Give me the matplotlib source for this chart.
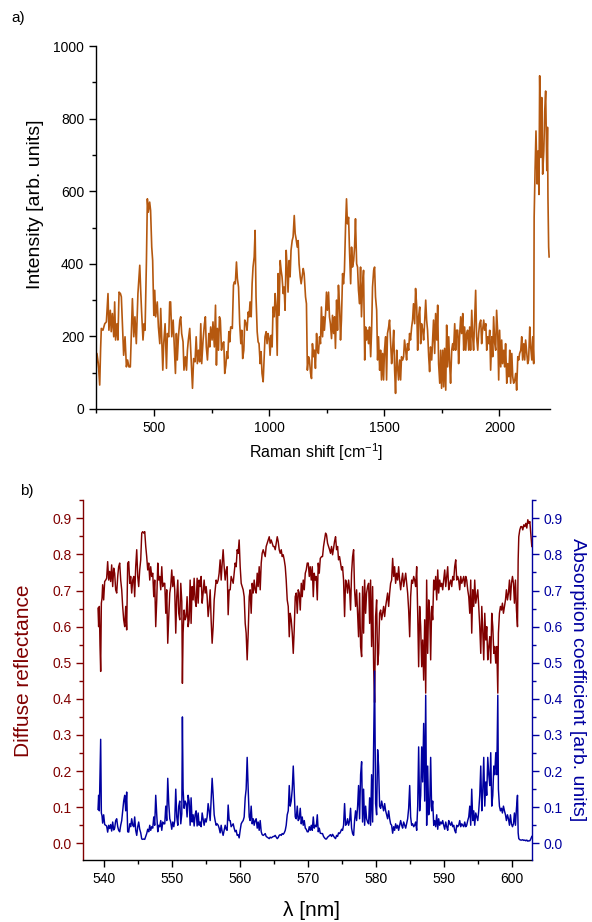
"""Raman spectrum (a) and diffuse reflectance / absorption spectrum (b)."""

import matplotlib

matplotlib.use("Agg")
import matplotlib.pyplot as plt
from matplotlib.ticker import MultipleLocator, FormatStrFormatter


# --- panel a: Raman spectrum ---
raman_shift = [
    249, 252, 258, 264, 268, 271, 278, 286, 293, 300, 304, 310, 314, 319, 325, 329, 333, 339, 343, 348,
    354, 358, 362, 368, 374, 380, 385, 391, 397, 403, 406, 412, 417, 423, 430, 438, 442, 446, 452, 457,
    461, 467, 471, 475, 481, 485, 490, 494, 499, 503, 507, 514, 519, 525, 529, 533, 538, 542, 548, 554,
    558, 564, 568, 572, 577, 583, 588, 593, 597, 601, 606, 612, 616, 620, 626, 630, 636, 641, 645, 649,
    655, 662, 667, 672, 678, 683, 688, 693, 698, 703, 707, 713, 719, 723, 727, 732, 738, 742, 746, 752,
    756, 762, 767, 771, 775, 780, 784, 788, 793, 797, 803, 807, 812, 816, 820, 825, 829, 833, 838, 840,
    845, 849, 853, 858, 862, 867, 872, 877, 881, 885, 890, 894, 900, 904, 909, 913, 917, 922, 926, 930,
    935, 939, 943, 948, 952, 956, 961, 965, 969, 974, 978, 982, 987, 991, 995, 1000, 1004, 1009, 1013, 1017,
    1022, 1026, 1030, 1035, 1039, 1043, 1048, 1052, 1056, 1061, 1065, 1069, 1074, 1078, 1082, 1087, 1091, 1095, 1100, 1104,
    1109, 1113, 1117, 1122, 1126, 1130, 1135, 1139, 1143, 1148, 1152, 1158, 1162, 1166, 1171, 1175, 1180, 1184, 1188, 1193,
    1197, 1201, 1206, 1210, 1214, 1219, 1223, 1227, 1232, 1236, 1240, 1245, 1249, 1253, 1258, 1262, 1266, 1271, 1275, 1280,
    1284, 1288, 1293, 1297, 1301, 1306, 1310, 1314, 1319, 1323, 1327, 1332, 1336, 1340, 1345,
    1349, 1354, 1358, 1362, 1367, 1371, 1375, 1380, 1384, 1388, 1393, 1397, 1401, 1406, 1410, 1415, 1419, 1423, 1428, 1432,
    1436, 1441, 1445, 1449, 1454, 1458, 1462, 1467, 1471, 1475, 1480, 1484, 1488, 1493, 1497, 1501, 1506, 1510, 1514, 1519,
    1523, 1528, 1532, 1536, 1541, 1545, 1549, 1554, 1558, 1562, 1567, 1571, 1575, 1580, 1584, 1588, 1593, 1597, 1601, 1606,
    1610, 1614, 1619, 1623, 1627, 1632, 1636, 1641, 1645, 1649, 1654, 1658, 1662, 1667, 1671, 1675, 1680, 1684, 1688, 1693,
    1697, 1701, 1706, 1710, 1714, 1719, 1723, 1728, 1732, 1736, 1741, 1745, 1749, 1754, 1758, 1762, 1767, 1771, 1775, 1780,
    1784, 1788, 1793, 1797, 1801, 1806, 1810, 1814, 1819, 1823, 1827, 1832, 1836, 1841, 1845, 1849, 1854, 1858, 1862, 1867,
    1871, 1875, 1880, 1884, 1888, 1893, 1897, 1901, 1906, 1910, 1914, 1919, 1923, 1927, 1932, 1936, 1941, 1945, 1949, 1954,
    1958, 1962, 1967, 1971, 1975, 1980, 1984, 1988, 1993, 1997, 2001, 2006, 2010, 2014, 2019, 2023, 2027, 2032, 2036, 2041,
    2045, 2049, 2054, 2058, 2062, 2067, 2071, 2075, 2080, 2084, 2088, 2093, 2097, 2101, 2106, 2110, 2114, 2119, 2123, 2127,
    2132, 2136, 2141, 2145, 2149, 2151, 2155, 2159, 2164, 2168, 2172, 2175, 2180, 2184, 2188, 2193, 2197, 2201, 2206, 2209,
    2211, 2214, 2216,
]
raman_intensity = [
    116, 153, 125, 66, 167, 222, 217, 235, 240, 318, 217, 272, 213, 263, 199, 295, 190, 235, 190, 322,
    318, 309, 245, 148, 199, 116, 135, 116, 116, 245, 304, 199, 254, 180, 318, 396, 327, 267, 190, 235,
    217, 409, 579, 542, 570, 547, 446, 409, 258, 327, 254, 295, 226, 180, 277, 199, 107, 180, 235, 112,
    208, 199, 295, 295, 199, 245, 171, 98, 208, 135, 199, 245, 254, 208, 185, 107, 144, 107, 162, 190,
    222, 125, 57, 139, 130, 199, 125, 162, 130, 235, 125, 190, 235, 254, 171, 135, 208, 171, 226, 190,
    240, 171, 286, 121, 222, 162, 254, 245, 162, 180, 185, 98, 121, 158, 139, 213, 185, 226, 226, 222,
    341, 350, 345, 405, 359, 336, 235, 180, 217, 139, 162, 245, 235, 217, 267, 254, 295, 254, 345, 391,
    419, 492, 309, 213, 185, 180, 125, 158, 98, 75, 139, 199, 213, 180, 208, 194, 148, 203, 171, 281,
    254, 318, 286, 148, 373, 258, 409, 382, 364, 318, 336, 272, 437, 391, 322, 409, 364, 437, 464, 474,
    533, 483, 469, 446, 464, 400, 364, 345, 364, 387, 373, 309, 290, 107, 144, 135, 98, 84, 180, 144,
    162, 112, 208, 162, 153, 199, 180, 281, 199, 254, 217, 263, 322, 272, 322, 254, 235, 194, 258, 208,
    254, 167, 300, 217, 341, 281, 190, 245, 373, 345, 382, 506, 579, 510, 528,
    437, 345, 446, 391, 409, 446, 524, 400, 391, 327, 290, 391, 254, 345, 382, 135, 226, 190, 217, 180,
    226, 144, 217, 336, 382, 391, 309, 272, 135, 199, 107, 162, 80, 153, 80, 162, 199, 80, 208, 226,
    245, 180, 125, 162, 217, 107, 43, 162, 116, 80, 135, 80, 144, 135, 144, 190, 162, 135, 180, 162,
    208, 190, 226, 245, 290, 235, 332, 281, 162, 254, 281, 180, 235, 217, 190, 235, 300, 245, 217, 144,
    103, 171, 135, 190, 245, 153, 263, 190, 286, 125, 71, 162, 57, 162, 61, 167, 52, 231, 116, 199,
    125, 71, 162, 180, 162, 235, 162, 217, 217, 125, 199, 254, 208, 263, 162, 226, 162, 208, 217, 162,
    226, 162, 272, 199, 162, 254, 327, 199, 162, 208, 235, 245, 180, 217, 245, 217, 235, 162, 199, 180,
    217, 107, 199, 144, 254, 180, 162, 272, 208, 80, 217, 116, 190, 125, 162, 116, 180, 71, 125, 89,
    162, 71, 153, 89, 71, 80, 98, 52, 144, 135, 153, 162, 199, 135, 180, 135, 190, 153, 125, 135,
    226, 171, 135, 199, 125, 528, 657, 766, 620, 711, 591, 918, 693, 858, 647, 711, 821, 876, 657, 776,
    583, 446, 419,
]

# --- panel b: diffuse reflectance and absorption coefficient ---
wavelength = [
    539.07, 539.16, 539.26, 539.36, 539.46, 539.56, 539.66, 539.75, 539.90, 540.05,
    540.20, 540.34, 540.49, 540.64, 540.79, 540.93, 541.08, 541.23, 541.38, 541.52,
    541.67, 541.82, 541.97, 542.11, 542.26, 542.41, 542.56, 542.70, 542.85, 543.00,
    543.15, 543.29, 543.44, 543.59, 543.74, 543.88, 544.03, 544.18, 544.33, 544.47,
    544.62, 544.77, 544.92, 545.06, 545.21, 545.36, 545.51, 545.65, 545.80, 545.95,
    546.10, 546.24, 546.39, 546.54, 546.69, 546.83, 546.98, 547.13, 547.28, 547.42,
    547.57, 547.72, 547.87, 548.01, 548.16, 548.31, 548.46, 548.60, 548.75, 548.90,
    549.05, 549.19, 549.34, 549.49, 549.64, 549.78, 549.93, 550.08, 550.23, 550.37,
    550.52, 550.67, 550.82, 550.96, 551.11, 551.26, 551.41, 551.50, 551.60, 551.75,
    551.90, 552.05, 552.19, 552.34, 552.49, 552.64, 552.78, 552.93, 553.08, 553.23,
    553.37, 553.52, 553.67, 553.82, 553.96, 554.11, 554.26, 554.41, 554.55, 554.70,
    554.85, 555.00, 555.14, 555.29, 555.44, 555.59, 555.73, 555.88, 556.03, 556.18,
    556.32, 556.47, 556.62, 556.77, 556.91, 557.06, 557.21, 557.36, 557.50, 557.65,
    557.80, 557.95, 558.09, 558.24, 558.39, 558.54, 558.68, 558.83, 558.98, 559.12,
    559.27, 559.42, 559.57, 559.71, 559.86, 560.01, 560.16, 560.30, 560.45, 560.60,
    560.75, 560.89, 561.04, 561.19, 561.34, 561.48, 561.63, 561.78, 561.93, 562.07,
    562.22, 562.37, 562.52, 562.66, 562.81, 562.96, 563.11, 563.25, 563.40, 563.55,
    563.70, 563.84, 563.99, 564.14, 564.29, 564.43, 564.58, 564.73, 564.88, 565.02,
    565.17, 565.32, 565.47, 565.61, 565.76, 565.91, 566.06, 566.20, 566.35, 566.50,
    566.65, 566.79, 566.94, 567.09, 567.24, 567.38, 567.53, 567.68, 567.83, 567.97,
    568.12, 568.27, 568.42, 568.56, 568.71, 568.86, 569.01, 569.15, 569.30, 569.45,
    569.60, 569.74, 569.89, 570.04, 570.19, 570.33, 570.48, 570.63, 570.78, 570.92,
    571.07, 571.22, 571.37, 571.51, 571.66, 571.81,
    572.00, 572.14, 572.29, 572.44, 572.59, 572.73, 572.88, 573.03, 573.18, 573.32,
    573.47, 573.62, 573.77, 573.91, 574.06, 574.21, 574.36, 574.50, 574.65, 574.80,
    574.95, 575.09, 575.24, 575.39, 575.54, 575.68, 575.83, 575.98, 576.13, 576.27,
    576.42, 576.57, 576.72, 576.86, 577.01, 577.16, 577.31, 577.45, 577.60, 577.75,
    577.90, 578.04, 578.19, 578.34, 578.49, 578.63, 578.78, 578.93, 579.08, 579.22,
    579.37, 579.52, 579.67, 579.81, 579.96, 580.11, 580.26, 580.40, 580.55, 580.70,
    580.85, 580.99, 581.14, 581.29, 581.44, 581.58, 581.73, 581.88, 582.03, 582.17,
    582.32, 582.47, 582.62, 582.76, 582.91, 583.06, 583.21, 583.35, 583.50, 583.65,
    583.80, 583.94, 584.09, 584.24, 584.39, 584.53, 584.68, 584.83, 584.98, 585.12,
    585.27, 585.42, 585.57, 585.71, 585.86, 586.01, 586.16, 586.30, 586.45, 586.60,
    586.75, 586.89, 587.04, 587.19, 587.34, 587.48, 587.63, 587.78, 587.93, 588.07,
    588.22, 588.37, 588.52, 588.66, 588.81, 588.96, 589.11, 589.25, 589.40, 589.55,
    589.70, 589.84, 589.99, 590.14, 590.29, 590.43, 590.58, 590.73, 590.88, 591.02,
    591.17, 591.32, 591.47, 591.61, 591.76, 591.91, 592.06, 592.20, 592.35, 592.50,
    592.65, 592.79, 592.94, 593.09, 593.24, 593.38, 593.53, 593.68, 593.83, 593.97,
    594.12, 594.27, 594.42, 594.56, 594.71, 594.86, 595.01, 595.15, 595.30, 595.45,
    595.60, 595.74, 595.89, 596.04, 596.19, 596.33, 596.48, 596.63, 596.78, 596.92,
    597.07, 597.22, 597.37, 597.51, 597.66, 597.81, 597.96, 598.05, 598.20, 598.35,
    598.50, 598.64, 598.79, 598.94, 599.09, 599.23, 599.38, 599.53, 599.68, 599.82,
    599.97, 600.12, 600.27, 600.41, 600.56, 600.71, 600.86, 600.96, 601.05, 601.20,
    601.35, 601.50, 601.64, 601.79, 601.94, 602.09, 602.23, 602.38, 602.53, 602.68,
    602.82, 602.97,
]
reflectance = [
    0.651, 0.600, 0.656, 0.549, 0.476, 0.665, 0.679, 0.716, 0.674, 0.725,
    0.729, 0.734, 0.780, 0.729, 0.753, 0.725, 0.771, 0.711, 0.762, 0.748,
    0.702, 0.693, 0.739, 0.766, 0.776, 0.729, 0.702, 0.656, 0.619, 0.600,
    0.656, 0.591, 0.776, 0.780, 0.720, 0.739, 0.693, 0.729, 0.739, 0.683,
    0.766, 0.813, 0.739, 0.711, 0.757, 0.785, 0.859, 0.863, 0.859, 0.863,
    0.822, 0.794, 0.757, 0.776, 0.729, 0.766, 0.739, 0.748, 0.683, 0.729,
    0.600, 0.674, 0.776, 0.729, 0.739, 0.702, 0.766, 0.711, 0.720, 0.720,
    0.637, 0.702, 0.554, 0.628, 0.693, 0.711, 0.757, 0.711, 0.739, 0.702,
    0.582, 0.683, 0.729, 0.637, 0.619, 0.720, 0.669, 0.443, 0.582, 0.646,
    0.619, 0.628, 0.683, 0.600, 0.619, 0.729, 0.609, 0.711, 0.674, 0.734,
    0.674, 0.656, 0.734, 0.665, 0.729, 0.711, 0.739, 0.665, 0.693, 0.729,
    0.693, 0.711, 0.683, 0.628, 0.656, 0.702, 0.619, 0.554, 0.600, 0.674,
    0.702, 0.729, 0.720, 0.729, 0.748, 0.785, 0.729, 0.776, 0.813, 0.766,
    0.729, 0.757, 0.766, 0.633, 0.702, 0.702, 0.739, 0.729, 0.720, 0.748,
    0.776, 0.766, 0.813, 0.803, 0.840, 0.766, 0.720, 0.711, 0.702, 0.683,
    0.609, 0.582, 0.508, 0.582, 0.683, 0.702, 0.637, 0.720, 0.693, 0.729,
    0.702, 0.693, 0.748, 0.711, 0.766, 0.702, 0.776, 0.803, 0.813, 0.803,
    0.794, 0.822, 0.831, 0.840, 0.849, 0.831, 0.840, 0.831, 0.822, 0.822,
    0.813, 0.831, 0.849, 0.836, 0.813, 0.803, 0.813, 0.794, 0.799, 0.785,
    0.766, 0.729, 0.674, 0.656, 0.572, 0.637, 0.619, 0.582, 0.526, 0.591,
    0.683, 0.693, 0.637, 0.702, 0.693, 0.646, 0.720, 0.683, 0.729, 0.702,
    0.748, 0.757, 0.776, 0.776, 0.739, 0.766, 0.729, 0.766, 0.683, 0.748,
    0.729, 0.739, 0.674, 0.776, 0.748, 0.789,
    0.794, 0.794, 0.822, 0.840, 0.859, 0.854, 0.831, 0.822, 0.813, 0.803,
    0.822, 0.799, 0.817, 0.836, 0.849, 0.813, 0.822, 0.785, 0.794, 0.776,
    0.757, 0.766, 0.729, 0.628, 0.729, 0.720, 0.693, 0.729, 0.702, 0.646,
    0.748, 0.794, 0.813, 0.702, 0.656, 0.702, 0.637, 0.572, 0.693, 0.545,
    0.517, 0.711, 0.582, 0.729, 0.637, 0.693, 0.711, 0.720, 0.609, 0.729,
    0.545, 0.711, 0.489, 0.390, 0.628, 0.674, 0.494, 0.526, 0.637, 0.646,
    0.619, 0.637, 0.656, 0.628, 0.656, 0.674, 0.693, 0.656, 0.693, 0.720,
    0.729, 0.789, 0.739, 0.766, 0.720, 0.748, 0.729, 0.766, 0.729, 0.702,
    0.729, 0.748, 0.711, 0.729, 0.748, 0.720, 0.693, 0.646, 0.572, 0.683,
    0.729, 0.720, 0.739, 0.729, 0.711, 0.766, 0.637, 0.489, 0.656, 0.600,
    0.489, 0.563, 0.452, 0.619, 0.416, 0.729, 0.526, 0.674, 0.637, 0.508,
    0.656, 0.619, 0.729, 0.702, 0.739, 0.674, 0.757, 0.693, 0.729, 0.711,
    0.720, 0.702, 0.729, 0.757, 0.711, 0.739, 0.766, 0.702, 0.720, 0.729,
    0.711, 0.739, 0.729, 0.766, 0.785, 0.729, 0.739, 0.729, 0.702, 0.739,
    0.720, 0.729, 0.739, 0.711, 0.739, 0.729, 0.702, 0.683, 0.637, 0.729,
    0.582, 0.702, 0.656, 0.729, 0.665, 0.683, 0.702, 0.656, 0.600, 0.526,
    0.656, 0.591, 0.508, 0.637, 0.563, 0.600, 0.508, 0.545, 0.572, 0.499,
    0.637, 0.600, 0.526, 0.545, 0.499, 0.545, 0.416, 0.582, 0.637, 0.656,
    0.646, 0.665, 0.637, 0.656, 0.674, 0.702, 0.674, 0.693, 0.729, 0.674,
    0.720, 0.739, 0.720, 0.665, 0.729, 0.646, 0.600, 0.785, 0.849, 0.868,
    0.877, 0.877, 0.868, 0.882, 0.877, 0.886, 0.873, 0.896, 0.886, 0.891,
    0.859, 0.822,
]
absorption = [
    0.094, 0.133, 0.090, 0.185, 0.288, 0.084, 0.076, 0.056, 0.079, 0.052,
    0.050, 0.048, 0.031, 0.050, 0.041, 0.052, 0.034, 0.059, 0.037, 0.042,
    0.063, 0.068, 0.046, 0.036, 0.032, 0.050, 0.063, 0.090, 0.117, 0.133,
    0.090, 0.142, 0.032, 0.031, 0.054, 0.046, 0.068, 0.050, 0.046, 0.073,
    0.036, 0.022, 0.046, 0.059, 0.039, 0.029, 0.012, 0.011, 0.012, 0.011,
    0.019, 0.027, 0.039, 0.032, 0.050, 0.036, 0.046, 0.042, 0.073, 0.050,
    0.133, 0.079, 0.032, 0.050, 0.046, 0.063, 0.036, 0.059, 0.054, 0.054,
    0.103, 0.063, 0.180, 0.110, 0.068, 0.059, 0.039, 0.059, 0.046, 0.063,
    0.150, 0.073, 0.050, 0.103, 0.117, 0.054, 0.082, 0.350, 0.150, 0.097,
    0.117, 0.110, 0.073, 0.133, 0.117, 0.050, 0.126, 0.059, 0.079, 0.048,
    0.079, 0.090, 0.048, 0.084, 0.050, 0.059, 0.046, 0.084, 0.068, 0.050,
    0.068, 0.059, 0.073, 0.110, 0.090, 0.063, 0.117, 0.180, 0.133, 0.079,
    0.063, 0.050, 0.054, 0.050, 0.042, 0.029, 0.050, 0.032, 0.022, 0.036,
    0.050, 0.039, 0.036, 0.106, 0.063, 0.063, 0.046, 0.050, 0.054, 0.042,
    0.032, 0.036, 0.022, 0.024, 0.015, 0.036, 0.054, 0.059, 0.063, 0.073,
    0.126, 0.150, 0.238, 0.150, 0.073, 0.063, 0.103, 0.054, 0.068, 0.050,
    0.063, 0.068, 0.042, 0.059, 0.036, 0.063, 0.032, 0.024, 0.022, 0.024,
    0.027, 0.019, 0.017, 0.015, 0.013, 0.017, 0.015, 0.017, 0.019, 0.019,
    0.022, 0.017, 0.013, 0.016, 0.022, 0.024, 0.022, 0.027, 0.025, 0.029,
    0.036, 0.050, 0.079, 0.090, 0.160, 0.103, 0.117, 0.150, 0.214, 0.142,
    0.073, 0.068, 0.103, 0.063, 0.068, 0.097, 0.054, 0.073, 0.050, 0.063,
    0.042, 0.039, 0.032, 0.032, 0.046, 0.036, 0.050, 0.036, 0.073, 0.042,
    0.050, 0.046, 0.079, 0.032, 0.042, 0.028,
    0.027, 0.027, 0.019, 0.015, 0.012, 0.012, 0.017, 0.019, 0.022, 0.024,
    0.019, 0.025, 0.020, 0.016, 0.013, 0.022, 0.019, 0.029, 0.027, 0.032,
    0.039, 0.036, 0.050, 0.110, 0.050, 0.054, 0.068, 0.050, 0.063, 0.097,
    0.042, 0.027, 0.022, 0.063, 0.090, 0.063, 0.103, 0.160, 0.068, 0.190,
    0.226, 0.059, 0.150, 0.050, 0.103, 0.068, 0.059, 0.054, 0.126, 0.050,
    0.190, 0.059, 0.267, 0.477, 0.110, 0.079, 0.259, 0.214, 0.103, 0.097,
    0.117, 0.103, 0.090, 0.110, 0.090, 0.079, 0.068, 0.090, 0.068, 0.054,
    0.050, 0.028, 0.046, 0.036, 0.054, 0.042, 0.050, 0.036, 0.050, 0.063,
    0.050, 0.042, 0.059, 0.050, 0.042, 0.054, 0.068, 0.097, 0.160, 0.073,
    0.050, 0.054, 0.046, 0.050, 0.059, 0.036, 0.103, 0.267, 0.090, 0.133,
    0.267, 0.170, 0.332, 0.117, 0.410, 0.050, 0.214, 0.079, 0.103, 0.238,
    0.090, 0.117, 0.050, 0.063, 0.046, 0.079, 0.039, 0.068, 0.050, 0.059,
    0.054, 0.063, 0.050, 0.039, 0.059, 0.046, 0.036, 0.063, 0.054, 0.050,
    0.059, 0.046, 0.050, 0.036, 0.029, 0.050, 0.046, 0.050, 0.063, 0.046,
    0.054, 0.050, 0.046, 0.059, 0.046, 0.050, 0.063, 0.073, 0.103, 0.050,
    0.150, 0.063, 0.090, 0.050, 0.084, 0.073, 0.063, 0.090, 0.133, 0.214,
    0.090, 0.142, 0.238, 0.103, 0.170, 0.133, 0.238, 0.190, 0.160, 0.251,
    0.103, 0.133, 0.214, 0.190, 0.251, 0.190, 0.410, 0.150, 0.103, 0.090,
    0.097, 0.084, 0.103, 0.090, 0.079, 0.063, 0.079, 0.068, 0.050, 0.079,
    0.054, 0.046, 0.054, 0.084, 0.050, 0.097, 0.133, 0.029, 0.013, 0.010,
    0.009, 0.009, 0.010, 0.008, 0.009, 0.007, 0.009, 0.006, 0.007, 0.007,
    0.012, 0.019,
]

RAMAN_COLOR = "#B5580F"
REFL_COLOR = "#800000"
ABS_COLOR = "#0000A0"


def style_ticks(ax, axis, color="black"):
    ax.tick_params(axis=axis, which="major", direction="out", length=5, width=1,
                   colors=color, labelsize=10)
    ax.tick_params(axis=axis, which="minor", direction="out", length=3, width=1, colors=color)


def main() -> None:
    plt.rcParams["font.family"] = ["Liberation Sans", "DejaVu Sans"]
    plt.rcParams["mathtext.fontset"] = "custom"
    plt.rcParams["mathtext.rm"] = "Liberation Sans"
    plt.rcParams["mathtext.it"] = "Liberation Sans:italic"
    plt.rcParams["axes.linewidth"] = 1.0

    fig = plt.figure(figsize=(5.92, 9.22), dpi=100)

    # panel a
    ax = fig.add_axes([0.1622, 0.5564, 0.7669, 0.3937])
    ax.plot(raman_shift, raman_intensity, color=RAMAN_COLOR, linewidth=1.2)
    ax.set_xlim(248, 2220)
    ax.set_ylim(0, 1000)
    ax.xaxis.set_major_locator(MultipleLocator(500))
    ax.xaxis.set_minor_locator(MultipleLocator(250))
    ax.yaxis.set_major_locator(MultipleLocator(200))
    ax.yaxis.set_minor_locator(MultipleLocator(100))
    ax.spines["top"].set_visible(False)
    ax.spines["right"].set_visible(False)
    style_ticks(ax, "both")

    # panel b
    axb = fig.add_axes([0.1407, 0.0672, 0.7574, 0.3905])
    axb.plot(wavelength, reflectance, color=REFL_COLOR, linewidth=1.05)
    axb.set_xlim(536.9, 602.95)
    axb.set_ylim(-0.0463, 0.9507)
    axb.xaxis.set_major_locator(MultipleLocator(10))
    axb.xaxis.set_minor_locator(MultipleLocator(5))
    axb.yaxis.set_major_locator(MultipleLocator(0.1))
    axb.yaxis.set_minor_locator(MultipleLocator(0.05))
    axb.yaxis.set_major_formatter(FormatStrFormatter("%.1f"))
    axb.spines["top"].set_visible(False)
    axb.spines["right"].set_visible(False)
    axb.spines["left"].set_color(REFL_COLOR)
    style_ticks(axb, "x")
    style_ticks(axb, "y", REFL_COLOR)

    twin = axb.twinx()
    twin.plot(wavelength, absorption, color=ABS_COLOR, linewidth=1.05)
    twin.set_ylim(-0.0463, 0.9507)
    twin.yaxis.set_major_locator(MultipleLocator(0.1))
    twin.yaxis.set_minor_locator(MultipleLocator(0.05))
    twin.yaxis.set_major_formatter(FormatStrFormatter("%.1f"))
    for side in ("top", "left", "bottom"):
        twin.spines[side].set_visible(False)
    twin.spines["right"].set_color(ABS_COLOR)
    style_ticks(twin, "y", ABS_COLOR)

    # labels
    fig.text(0.03, 0.981, "a)", fontsize=11, ha="center", va="center")
    fig.text(0.0456, 0.4675, "b)", fontsize=11, ha="center", va="center")
    fig.text(0.0608, 0.779, "Intensity [arb. units]", fontsize=14, rotation=90,
             ha="center", va="center")
    fig.text(0.534, 0.5098, "Raman shift [cm$^{-1}$]", fontsize=11.5, ha="center", va="center")
    fig.text(0.0405, 0.2722, "Diffuse reflectance", fontsize=15, rotation=90,
             ha="center", va="center", color=REFL_COLOR)
    fig.text(0.976, 0.2625, "Absorption coefficient [arb. units]", fontsize=14, rotation=270,
             ha="center", va="center", color=ABS_COLOR)
    fig.text(0.527, 0.012, "λ [nm]", fontsize=15, ha="center", va="center")

    fig.savefig("out.png", dpi=100)
    plt.close(fig)


if __name__ == "__main__":
    main()
